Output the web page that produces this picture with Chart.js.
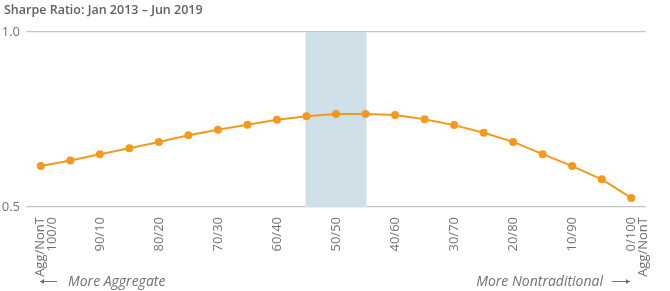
<!DOCTYPE html>
<html>
<head>
<meta charset="utf-8">
<script src="https://cdn.jsdelivr.net/npm/chart.js@4"></script>
<style>
  html, body { margin: 0; padding: 0; background: #fff; }
  #wrap { width: 670px; height: 291px; position: relative; }
</style>
</head>
<body>
<div id="wrap"><canvas id="chart"></canvas></div>
<script>
// mixes from 100% aggregate to 100% nontraditional, 5% steps
const mixLabels = [
  ['Agg/NonT', '100/0'], '', '90/10', '', '80/20', '', '70/30', '', '60/40', '',
  '50/50', '', '40/60', '', '30/70', '', '20/80', '', '10/90', '', ['0/100', 'Agg/NonT']
];
const sharpeValues = [
  0.617, 0.633, 0.651, 0.668, 0.686, 0.705, 0.721, 0.735, 0.749, 0.759,
  0.766, 0.766, 0.763, 0.751, 0.734, 0.712, 0.686, 0.651, 0.617, 0.579, 0.526
];
const yTicks = [0.5, 1.0];
const bandRange = [9, 11]; // shaded around 50/50
const chartTitle = 'Sharpe Ratio: Jan 2013 \u2013 Jun 2019';
const leftNote = 'More Aggregate';
const rightNote = 'More Nontraditional';

const gray = '#707173';
const fontFam = '"Open Sans", Lato, sans-serif';

const bandPlugin = {
  id: 'band',
  beforeDatasetsDraw(chart) {
    const { ctx, chartArea, scales } = chart;
    const x0 = scales.x.getPixelForValue(bandRange[0]) - 1;
    const x1 = scales.x.getPixelForValue(bandRange[1]) + 1;
    ctx.save();
    ctx.fillStyle = '#cfdfe7';
    ctx.fillRect(x0, chartArea.top, x1 - x0, chartArea.bottom - chartArea.top);
    ctx.restore();
  }
};

const textPlugin = {
  id: 'notes',
  afterDraw(chart) {
    const ctx = chart.ctx;
    ctx.save();
    ctx.fillStyle = '#5f6062';
    ctx.font = '600 12.5px ' + fontFam;
    ctx.textBaseline = 'alphabetic';
    ctx.textAlign = 'left';
    ctx.fillText(chartTitle, 4, 14);

    ctx.fillStyle = gray;
    ctx.font = 'italic 14px ' + fontFam;
    ctx.fillText(leftNote, 68, 286);
    ctx.textAlign = 'right';
    ctx.fillText(rightNote, 603, 286);

    // small arrows
    ctx.strokeStyle = gray;
    ctx.lineWidth = 1;
    const arrow = (xa, xb, y) => {
      ctx.beginPath();
      ctx.moveTo(xa, y); ctx.lineTo(xb, y);
      ctx.stroke();
      const d = xb > xa ? -1 : 1;
      ctx.beginPath();
      ctx.moveTo(xb, y);
      ctx.lineTo(xb + d * 4, y - 2.5);
      ctx.lineTo(xb + d * 4, y + 2.5);
      ctx.closePath();
      ctx.fill();
    };
    arrow(57, 40, 281.5);
    arrow(612, 630, 281.5);
    ctx.restore();
  }
};

new Chart(document.getElementById('chart'), {
  type: 'line',
  data: {
    labels: mixLabels,
    datasets: [{
      data: sharpeValues,
      borderColor: '#f39a1e',
      backgroundColor: '#f39a1e',
      borderWidth: 2,
      pointRadius: 4,
      pointHoverRadius: 4,
      pointBorderWidth: 0,
      tension: 0
    }]
  },
  options: {
    responsive: true,
    maintainAspectRatio: false,
    animation: false,
    layout: { padding: { top: 32, right: 24, left: 0, bottom: 0 } },
    plugins: { legend: { display: false }, tooltip: { enabled: false } },
    scales: {
      x: {
        offset: true,
        grid: { display: false, drawTicks: false },
        border: { display: false },
        ticks: {
          autoSkip: false,
          minRotation: 90,
          maxRotation: 90,
          padding: 10,
          color: gray,
          font: { family: fontFam, size: 13, lineHeight: 0.9 }
        },
        afterFit(axis) { axis.height = 84; }
      },
      y: {
        min: 0.5,
        max: 1.0,
        afterBuildTicks(axis) { axis.ticks = yTicks.map(v => ({ value: v })); },
        grid: { color: '#c4c4c4', lineWidth: 1.3, drawTicks: false },
        border: { display: false },
        ticks: {
          padding: 6,
          color: gray,
          font: { family: fontFam, size: 13 },
          callback: v => v.toFixed(1)
        },
        afterFit(axis) { axis.width = 26; }
      }
    }
  },
  plugins: [bandPlugin, textPlugin]
});
</script>
</body>
</html>
